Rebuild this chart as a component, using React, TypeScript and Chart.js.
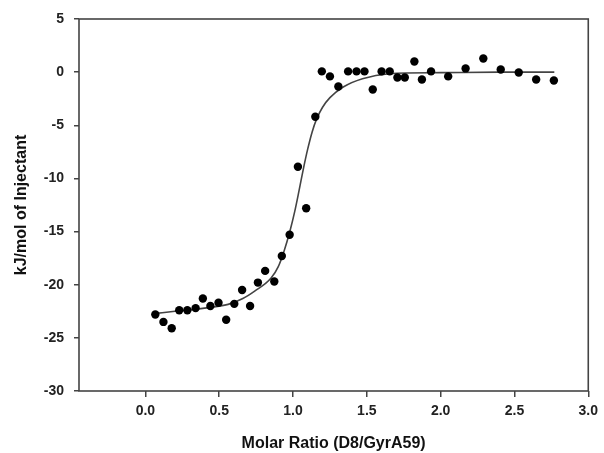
import React, { useEffect, useRef } from "react";
import { Chart, registerables } from "chart.js";

Chart.register(...registerables);

// Measured injections: molar ratio vs heat (kJ/mol of injectant)
const ratio = [
  0.067, 0.122, 0.178, 0.229, 0.284, 0.34, 0.389, 0.44, 0.495, 0.547, 0.602, 0.655, 0.709, 0.762,
  0.811, 0.873, 0.924, 0.977, 1.033, 1.089, 1.151, 1.195, 1.25, 1.307, 1.373, 1.43, 1.484, 1.54,
  1.6, 1.655, 1.707, 1.757, 1.822, 1.873, 1.935, 2.051, 2.169, 2.289, 2.407, 2.529, 2.647, 2.767,
];
const heat = [
  -22.8, -23.5, -24.1, -22.4, -22.4, -22.2, -21.3, -22.0, -21.7, -23.3, -21.8, -20.5, -22.0, -19.8,
  -18.7, -19.7, -17.3, -15.3, -8.9, -12.8, -4.2, 0.07, -0.4, -1.35, 0.07, 0.07, 0.07, -1.63,
  0.07, 0.07, -0.5, -0.5, 1.0, -0.69, 0.07, -0.4, 0.35, 1.29, 0.25, -0.03, -0.69, -0.78,
];

// Fitted curve
const fitX = [0.07, 0.2, 0.4, 0.56, 0.66, 0.74, 0.85, 0.9, 0.94, 0.98, 1.01, 1.04, 1.07, 1.1, 1.13, 1.16, 1.2, 1.25, 1.34, 1.47, 1.65, 2.0, 2.4, 2.77];
const fitY = [-22.7, -22.5, -22.2, -21.85, -21.3, -20.6, -19.4, -18.3, -16.8, -14.9, -13.2, -11.2, -9.1, -7.2, -5.6, -4.4, -3.3, -2.4, -1.4, -0.62, -0.15, -0.05, 0, 0];

const xTicks = [0, 0.5, 1.0, 1.5, 2.0, 2.5, 3.0];
const yTicks = [-30, -25, -20, -15, -10, -5, 0, 5];

const FONT = "'Liberation Sans', Arial, sans-serif";

const boxPlugin = {
  id: "box",
  afterDatasetsDraw(chart: any) {
    const { ctx, chartArea: a } = chart;
    ctx.save();
    ctx.strokeStyle = "#444";
    ctx.lineWidth = 1.6;
    ctx.strokeRect(a.left, a.top, a.right - a.left, a.bottom - a.top);
    ctx.restore();
  },
};

export default function App() {
  const ref = useRef<HTMLCanvasElement | null>(null);
  useEffect(() => {
    if (!ref.current) return;
    const chart = new Chart(ref.current, {
      type: "scatter",
      data: {
        datasets: [
          {
            label: "data",
            data: ratio.map((x, i) => ({ x, y: heat[i] })),
            backgroundColor: "#000",
            borderColor: "#000",
            pointRadius: 4.2,
            borderWidth: 0,
            order: 0,
          },
          {
            label: "fit",
            data: fitX.map((x, i) => ({ x, y: fitY[i] })),
            showLine: true,
            borderColor: "#444",
            borderWidth: 1.6,
            pointRadius: 0,
            cubicInterpolationMode: "monotone",
            order: 1,
          } as any,
        ],
      },
      options: {
        animation: false,
        responsive: false,
        layout: { padding: { top: 19, right: 9, left: 0, bottom: 0 } },
        plugins: { legend: { display: false }, tooltip: { enabled: false } },
        scales: {
          x: {
            type: "linear",
            min: -0.45,
            max: 3.0,
            afterBuildTicks: (s: any) => {
              s.ticks = xTicks.map((v) => ({ value: v }));
            },
            afterFit: (s: any) => {
              s.height = 62;
            },
            grid: { display: true, drawOnChartArea: false, drawTicks: true, tickLength: 6, color: "#444", lineWidth: 1.5 },
            border: { display: false },
            ticks: {
              padding: 6,
              color: "#222",
              font: { family: FONT, size: 14, weight: "bold" },
              callback: (v: any) => Number(v).toFixed(1),
            },
            title: {
              display: true,
              text: "Molar Ratio (D8/GyrA59)",
              color: "#111",
              font: { family: FONT, size: 16, weight: "bold" },
              padding: { top: 0, bottom: 0 },
            },
          },
          y: {
            type: "linear",
            min: -30,
            max: 5,
            afterBuildTicks: (s: any) => {
              s.ticks = yTicks.map((v) => ({ value: v }));
            },
            afterFit: (s: any) => {
              s.width = 79;
            },
            grid: { display: true, drawOnChartArea: false, drawTicks: true, tickLength: 5, color: "#444", lineWidth: 1.5 },
            border: { display: false },
            ticks: {
              padding: 10,
              color: "#222",
              font: { family: FONT, size: 14, weight: "bold" },
              callback: (v: any) => String(v),
            },
            title: {
              display: true,
              text: "kJ/mol of Injectant",
              color: "#111",
              font: { family: FONT, size: 16, weight: "bold" },
              padding: { top: 12, bottom: 0 },
            },
          },
        },
      },
      plugins: [boxPlugin],
    });
    return () => chart.destroy();
  }, []);
  return (
    <div style={{ position: "absolute", left: 0, top: 0, width: 604, height: 453, background: "#fff" }}>
      <canvas ref={ref} width={604} height={453} />
    </div>
  );
}
